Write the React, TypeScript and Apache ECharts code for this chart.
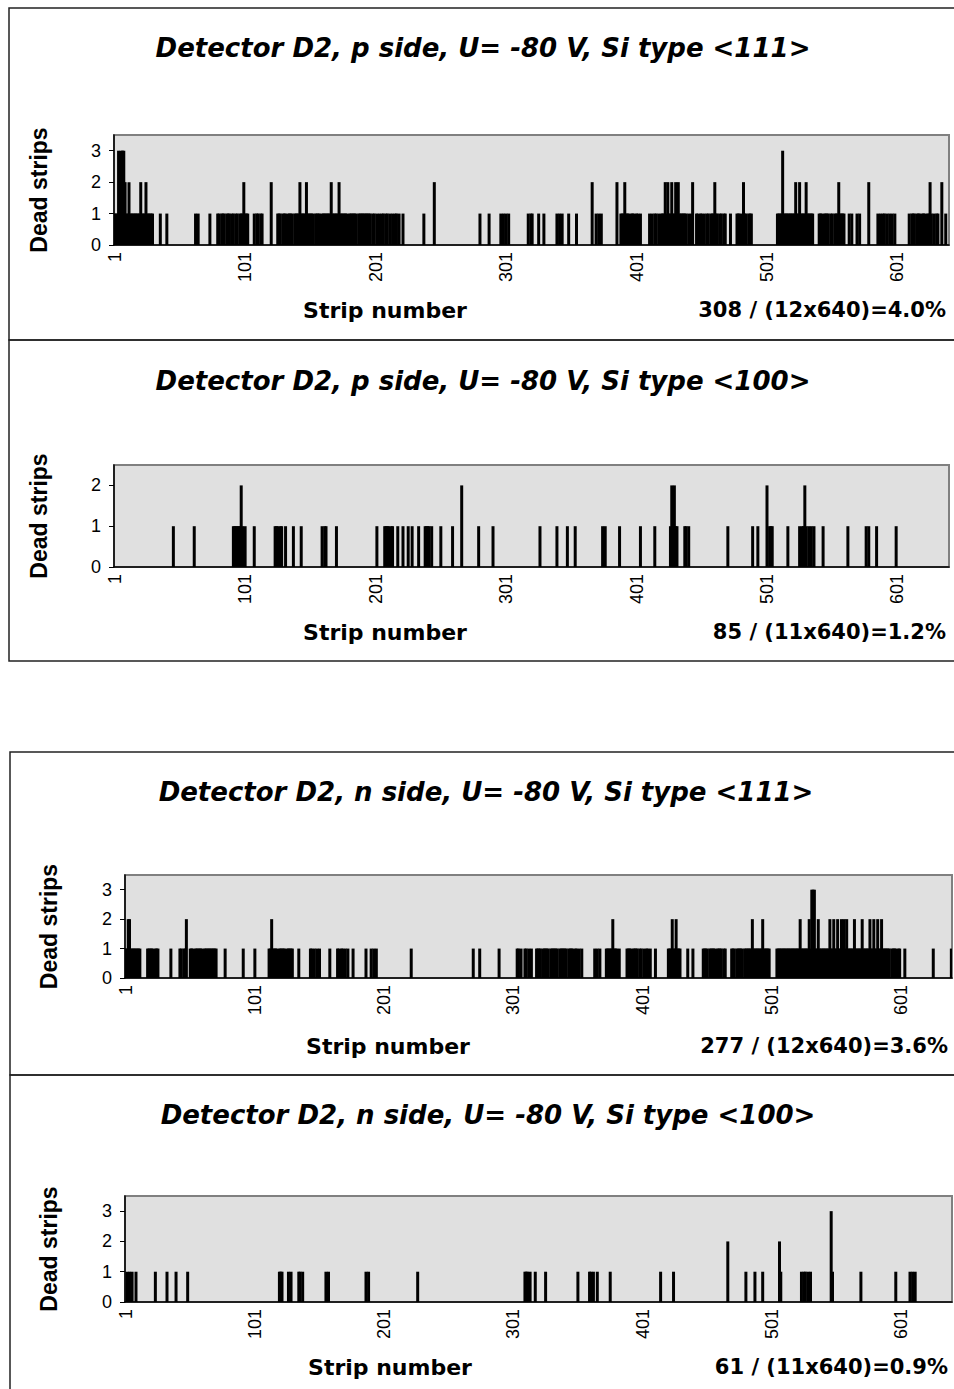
import React, { useEffect, useRef } from 'react';
import * as echarts from 'echarts';

const STRIPS = 640;
const stripLabels: string[] = Array.from({ length: STRIPS }, (_, i) => String(i + 1));

// Panel 1: p side, <111>
const p111Ones = [1, 2, 3, 5, 8, 10, 11, 13, 14, 15, 16, 17, 18, 19, 20, 22, 23, 24, 26, 27, 28, 29, 30,
  36, 41, 63, 65, 74, 80, 81, 83, 84, 85, 87, 88, 89, 91, 92, 94, 95, 97, 98, 99, 101, 102, 103,
  108, 110, 111, 113, 114, 126, 127, 128, 130, 131, 132, 134, 135, 136, 137, 139, 140, 141, 142, 144, 145,
  146, 147, 149, 150, 151, 152, 153, 155, 156, 157, 158, 160, 161, 162, 163, 164, 165, 166, 168, 169, 170,
  171, 172, 174, 175, 176, 177, 178, 179, 181, 182, 183, 184, 185, 186, 188, 189, 190, 191, 192, 193, 194,
  195, 196, 197, 199, 200, 202, 204, 206, 207, 209, 210, 212, 214, 216, 217, 219, 222, 238,
  281, 288, 297, 299, 301, 303, 318, 320, 321, 326, 330, 340, 342, 344, 349, 355, 370, 372, 374,
  389, 390, 391, 393, 394, 395, 397, 398, 399, 401, 402, 404, 411, 413, 415, 416, 418, 420, 421, 422,
  424, 426, 427, 429, 430, 432, 434, 435, 436, 437, 438, 439, 441, 443, 447, 448, 450, 451, 453, 455,
  456, 458, 459, 460, 462, 463, 465, 466, 468, 469, 473, 478, 479, 480, 482, 484, 485, 487, 488, 489,
  509, 510, 511, 512, 514, 515, 516, 517, 518, 519, 520, 521, 522, 524, 525, 527, 528, 529, 530, 532,
  533, 534, 535, 536, 541, 542, 543, 545, 546, 547, 548, 550, 551, 553, 554, 555, 557, 558, 559, 560,
  564, 566, 570, 572, 586, 588, 590, 591, 593, 595, 597, 599, 610, 612, 613, 614, 616, 617, 618, 620,
  621, 622, 624, 625, 627, 629, 631, 632, 638];
const p111Twos = [9, 12, 21, 25, 100, 121, 143, 148, 167, 173, 246, 367, 386, 392, 423, 425, 428, 431, 433,
  444, 461, 483, 523, 526, 531, 556, 579, 626, 635];
const p111Threes = [4, 6, 7, 8, 513];

// Panel 2: p side, <100>
const p100Ones = [46, 62, 92, 93, 94, 95, 96, 97, 99, 101, 108, 124, 125, 126, 128, 129, 132, 138, 144, 160,
  162, 163, 171, 202, 208, 209, 210, 211, 213, 214, 218, 222, 226, 229, 234, 239, 240, 241, 242, 244, 251,
  260, 280, 291, 327, 340, 348, 354, 375, 377, 388, 404, 415, 427, 429, 431, 432, 438, 439, 441, 471, 490,
  494, 503, 504, 505, 517, 526, 528, 529, 531, 533, 535, 537, 544, 563, 577, 579, 585, 600];
const p100Twos = [98, 267, 428, 430, 501, 530];
const p100Threes: number[] = [];

// Panel 3: n side, <111>
const n111Ones = [1, 2, 5, 6, 7, 8, 9, 10, 11, 12, 18, 19, 20, 21, 22, 24, 25, 26, 36, 43, 44, 46, 47,
  51, 52, 53, 55, 56, 57, 58, 59, 60, 62, 63, 64, 65, 66, 67, 68, 69, 70, 71, 78, 92, 101,
  112, 113, 115, 116, 117, 118, 120, 121, 122, 123, 124, 126, 127, 128, 129, 130, 135, 144, 145, 147, 149,
  151, 159, 165, 166, 168, 169, 171, 173, 177, 187, 191, 193, 195, 222, 270, 275, 290, 304, 305, 307, 310,
  311, 313, 315, 319, 320, 321, 322, 324, 325, 326, 327, 328, 330, 331, 332, 333, 334, 335, 337, 338, 339,
  340, 341, 342, 344, 345, 346, 347, 349, 350, 352, 354, 364, 366, 368, 373, 374, 375, 376, 377, 379, 380,
  381, 383, 389, 390, 391, 392, 394, 395, 396, 397, 399, 400, 402, 404, 405, 407, 411, 421, 422, 423, 425,
  426, 428, 429, 430, 436, 440, 448, 449, 450, 451, 453, 454, 455, 456, 457, 459, 460, 461, 462, 464, 465,
  470, 471, 472, 474, 475, 476, 477, 478, 480, 481, 482, 483, 484, 485, 487, 488, 489, 490, 491, 492, 493,
  495, 496, 497, 498, 499, 505, 506, 507, 508, 509, 510, 511, 512, 513, 514, 515, 516, 517, 518, 519, 520,
  521, 522, 524, 525, 526, 527, 528, 529, 531, 535, 536, 538, 539, 540, 541, 542, 543, 544, 545, 547, 548,
  550, 551, 553, 554, 556, 558, 560, 561, 562, 563, 564, 566, 567, 568, 569, 570, 572, 573, 574, 575, 576,
  578, 579, 581, 582, 584, 585, 587, 588, 589, 590, 591, 592, 594, 595, 596, 597, 599, 600, 604, 626, 640];
const n111Twos = [3, 4, 48, 114, 378, 424, 427, 486, 494, 523, 530, 537, 546, 549, 552, 555, 557, 559, 565,
  571, 577, 580, 583, 586];
const n111Threes = [532, 533, 534];

// Panel 4: n side, <100>
const n100Ones = [2, 4, 6, 9, 24, 33, 40, 49, 120, 121, 122, 127, 129, 135, 136, 138, 156, 158, 187, 189,
  227, 310, 311, 312, 314, 318, 326, 351, 360, 361, 363, 366, 376, 415, 425, 481, 488, 494, 508, 524, 526,
  527, 529, 531, 548, 570, 597, 608, 610, 612];
const n100Twos = [467, 507];
const n100Threes = [547];

const titles = [
  'Detector D2, p side, U= -80 V, Si type <111>',
  'Detector D2, p side, U= -80 V, Si type <100>',
  'Detector D2, n side, U= -80 V, Si type <111>',
  'Detector D2, n side, U= -80 V, Si type <100>',
];
const ratios = ['308 / (12x640)=4.0%', '85 / (11x640)=1.2%', '277 / (12x640)=3.6%', '61 / (11x640)=0.9%'];
const yMaxes = [3.5, 2.5, 3.5, 3.5];

function buildCounts(ones: number[], twos: number[], threes: number[]) {
  const v: number[] = new Array(STRIPS).fill(0);
  ones.forEach((s) => (v[s - 1] = 1));
  twos.forEach((s) => (v[s - 1] = 2));
  threes.forEach((s) => (v[s - 1] = 3));
  return v;
}

const panelData = [
  buildCounts(p111Ones, p111Twos, p111Threes),
  buildCounts(p100Ones, p100Twos, p100Threes),
  buildCounts(n111Ones, n111Twos, n111Threes),
  buildCounts(n100Ones, n100Twos, n100Threes),
];

// layout
const grids = [
  { left: 114, top: 135, width: 835, height: 110 },
  { left: 114, top: 465, width: 835, height: 102 },
  { left: 125, top: 875, width: 827, height: 103 },
  { left: 125, top: 1196, width: 827, height: 106 },
];
const frames = [
  { x: 9, y: 8, h: 332 },
  { x: 9, y: 340, h: 321 },
  { x: 10, y: 752, h: 323 },
  { x: 10, y: 1075, h: 330 },
];
const titleY = [48, 381, 792, 1115];
const titleX = [483, 483, 486, 488];
const bottomY = [310, 632, 1046, 1367];
const stripX = [385, 385, 388, 390];
const ratioX = [946, 946, 948, 948];

export default function App() {
  const ref = useRef<HTMLDivElement>(null);
  useEffect(() => {
    if (!ref.current) return;
    const chart = echarts.init(ref.current, undefined, { renderer: 'svg' });
    const tickEvery = (i: number) => i % 100 === 0;
    const option: any = {
      animation: false,
      backgroundColor: '#ffffff',
      grid: grids.map((g) => ({
        ...g,
        show: true,
        backgroundColor: '#e0e0e0',
        borderColor: '#808080',
        borderWidth: 2,
      })),
      xAxis: grids.map((_, i) => ({
        type: 'category',
        gridIndex: i,
        data: stripLabels,
        boundaryGap: true,
        axisLine: { lineStyle: { color: '#000', width: 1.5 } },
        axisTick: { interval: tickEvery, length: 6, lineStyle: { color: '#000', width: 1 } },
        axisLabel: {
          interval: tickEvery,
          rotate: 90,
          fontSize: 18,
          color: '#000',
          fontFamily: 'Liberation Sans, Arial, sans-serif',
          margin: 7,
        },
        splitLine: { show: false },
      })),
      yAxis: grids.map((_, i) => ({
        type: 'value',
        gridIndex: i,
        min: 0,
        max: yMaxes[i],
        interval: 1,
        axisLine: { show: true, lineStyle: { color: '#000', width: 1.5 } },
        axisTick: { show: true, length: 5, lineStyle: { color: '#000' } },
        axisLabel: {
          fontSize: 18,
          color: '#000',
          fontFamily: 'Liberation Sans, Arial, sans-serif',
          margin: 13,
          showMaxLabel: false,
          formatter: (v: number) => (Number.isInteger(v) ? String(v) : ''),
        },
        splitLine: { show: false },
        name: 'Dead strips',
        nameLocation: 'middle',
        nameGap: i < 2 ? 64 : 65,
        nameTextStyle: {
          fontSize: 23,
          fontWeight: 'bold',
          color: '#000',
          fontFamily: 'Liberation Sans, Arial, sans-serif',
        },
      })),
      series: panelData.map((d, i) => ({
        type: 'bar',
        xAxisIndex: i,
        yAxisIndex: i,
        data: d,
        barWidth: 3,
        itemStyle: { color: '#000' },
        silent: true,
      })),
      graphic: [
        ...frames.map((f) => ({
          type: 'rect',
          shape: { x: f.x, y: f.y, width: 990, height: f.h },
          style: { fill: 'none', stroke: '#222', lineWidth: 1.5 },
          z: 100,
        })),
        ...titles.map((t, i) => ({
          type: 'text',
          x: titleX[i],
          y: titleY[i],
          style: {
            text: t,
            fill: '#000',
            font: 'italic bold 26px "DejaVu Sans", sans-serif',
            textAlign: 'center',
            textVerticalAlign: 'middle',
          },
        })),
        ...stripX.map((x, i) => ({
          type: 'text',
          x,
          y: bottomY[i],
          style: {
            text: 'Strip number',
            fill: '#000',
            font: 'bold 22px "DejaVu Sans", sans-serif',
            textAlign: 'center',
            textVerticalAlign: 'middle',
          },
        })),
        ...ratios.map((t, i) => ({
          type: 'text',
          x: ratioX[i],
          y: bottomY[i],
          style: {
            text: t,
            fill: '#000',
            font: 'bold 21px "DejaVu Sans", sans-serif',
            textAlign: 'right',
            textVerticalAlign: 'middle',
          },
        })),
      ],
    };
    chart.setOption(option);
    return () => chart.dispose();
  }, []);
  return (
    <div
      ref={ref}
      style={{ position: 'absolute', left: 0, top: 0, width: 954, height: 1389, background: '#fff' }}
    />
  );
}
